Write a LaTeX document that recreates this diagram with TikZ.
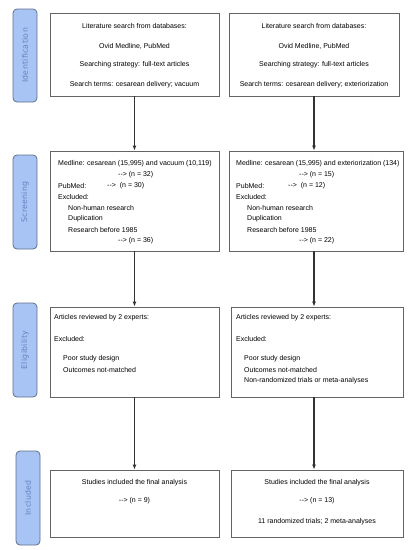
\documentclass[tikz,border=0pt]{standalone}
\usepackage{fontspec}
\setmainfont{Liberation Sans}
\newfontfamily\phasefont{DejaVu Sans}[LetterSpace=4]
\usetikzlibrary{arrows.meta}
\definecolor{phasefill}{RGB}{168,196,244}
\definecolor{phaseline}{RGB}{95,110,140}
\definecolor{phasetext}{RGB}{100,130,195}
\definecolor{boxline}{RGB}{100,100,100}
\definecolor{arrowline}{RGB}{50,50,50}
\tikzset{
  phase/.style={draw=phaseline, fill=phasefill, rounded corners=4pt, line width=0.8pt,
    minimum width=24pt, inner sep=0pt, text=phasetext,
    font=\phasefont\fontsize{7.8}{9}\selectfont},
  stagebox/.style={draw=boxline, fill=white, line width=0.8pt, inner sep=0pt},
  txt/.style={inner sep=0pt, anchor=west, font=\fontsize{7}{8}\selectfont},
  ctxt/.style={inner sep=0pt, font=\fontsize{7}{8}\selectfont},
  arr/.style={draw=arrowline, line width=1.1pt, -{Latex[length=5pt,width=4pt]}}
}
\begin{document}
\begin{tikzpicture}[x=1pt,y=-1pt]
  \useasboundingbox (0,0) rectangle (415,550);
  % phase labels
  \node[phase, minimum height=93pt] (pid) at (25,55.5) {\rotatebox{90}{Identification}};
  \node[phase, minimum height=94pt] (pscr) at (25,202) {\rotatebox{90}{Screening}};
  \node[phase, minimum height=94pt] (pel) at (25,350) {\rotatebox{90}{Eligibility}};
  \node[phase, minimum height=94pt] (pinc) at (28,498) {\rotatebox{90}{Included}};
  % boxes
  \node[stagebox, minimum width=169pt, minimum height=83pt] (idL) at (134.5,54.5) {};
  \node[stagebox, minimum width=170pt, minimum height=83pt] (idR) at (314,54.5) {};
  \node[stagebox, minimum width=169pt, minimum height=100pt] (scrL) at (134.5,201) {};
  \node[stagebox, minimum width=174pt, minimum height=100pt] (scrR) at (316,201) {};
  \node[stagebox, minimum width=169pt, minimum height=90pt] (elL) at (134.5,352) {};
  \node[stagebox, minimum width=172pt, minimum height=90pt] (elR) at (317,352) {};
  \node[stagebox, minimum width=169pt, minimum height=67pt] (incL) at (134.5,503.5) {};
  \node[stagebox, minimum width=172pt, minimum height=67pt] (incR) at (317,503.5) {};
  % identification texts
  \node[ctxt] (idL1) at (134.5,26) {Literature search from databases:};
  \node[ctxt] (idL2) at (134.5,46) {Ovid Medline, PubMed};
  \node[ctxt] (idL3) at (134.5,65) {Searching strategy: full-text articles};
  \node[ctxt] (idL4) at (134.5,85) {Search terms: cesarean delivery; vacuum};
  \node[ctxt] (idR1) at (314,26) {Literature search from databases:};
  \node[ctxt] (idR2) at (314,46) {Ovid Medline, PubMed};
  \node[ctxt] (idR3) at (314,65) {Searching strategy: full-text articles};
  \node[ctxt] (idR4) at (314,85) {Search terms: cesarean delivery; exteriorization};
  % screening texts
  \node[txt] (scrL1) at (58,164) {Medline: cesarean (15,995) and vacuum (10,119)};
  \node[txt] (scrL2) at (118,175) {-{}-> (n = 32)};
  \node[txt] (scrL3) at (58,186) {PubMed:};
  \node[txt] (scrL4) at (107,186) {-{}-> \ (n = 30)};
  \node[txt] (scrL5) at (58,197) {Excluded:};
  \node[txt] (scrL6) at (68,208) {Non-human research};
  \node[txt] (scrL7) at (68,219) {Duplication};
  \node[txt] (scrL8) at (68,230) {Research before 1985};
  \node[txt] (scrL9) at (118,241) {-{}-> (n = 36)};
  \node[txt] (scrR1) at (236,164) {Medline: cesarean (15,995) and exteriorization (134)};
  \node[txt] (scrR2) at (299,175) {-{}-> (n = 15)};
  \node[txt] (scrR3) at (236,186) {PubMed:};
  \node[txt] (scrR4) at (288,186) {-{}-> \ (n = 12)};
  \node[txt] (scrR5) at (236,197) {Excluded:};
  \node[txt] (scrR6) at (247,208) {Non-human research};
  \node[txt] (scrR7) at (247,219) {Duplication};
  \node[txt] (scrR8) at (247,230) {Research before 1985};
  \node[txt] (scrR9) at (299,241) {-{}-> (n = 22)};
  % eligibility texts
  \node[txt] (elL1) at (54,318) {Articles reviewed by 2 experts:};
  \node[txt] (elL2) at (54,339) {Excluded:};
  \node[txt] (elL3) at (63,359) {Poor study design};
  \node[txt] (elL4) at (63,370) {Outcomes not-matched};
  \node[txt] (elR1) at (236,318) {Articles reviewed by 2 experts:};
  \node[txt] (elR2) at (236,339) {Excluded:};
  \node[txt] (elR3) at (244,359) {Poor study design};
  \node[txt] (elR4) at (244,370) {Outcomes not-matched};
  \node[txt] (elR5) at (244,381) {Non-randomized trials or meta-analyses};
  % included texts
  \node[ctxt] (incL1) at (134.5,483) {Studies included the final analysis};
  \node[ctxt] (incL2) at (134.5,501) {-{}-> (n = 9)};
  \node[ctxt] (incR1) at (317,483) {Studies included the final analysis};
  \node[ctxt] (incR2) at (317,501) {-{}-> (n = 13)};
  \node[ctxt] (incR3) at (317,522) {11 randomized trials; 2 meta-analyses};
  % arrows
  \draw[arr] (idL.south) -- (scrL.north);
  \draw[arr] (scrL.south) -- (elL.north);
  \draw[arr] (elL.south) -- (incL.north);
  \draw[arr] (idR.south) -- (idR.south |- scrR.north);
  \draw[arr] (idR.south |- scrR.south) -- (idR.south |- elR.north);
  \draw[arr] (idR.south |- elR.south) -- (idR.south |- incR.north);
\end{tikzpicture}
\end{document}
